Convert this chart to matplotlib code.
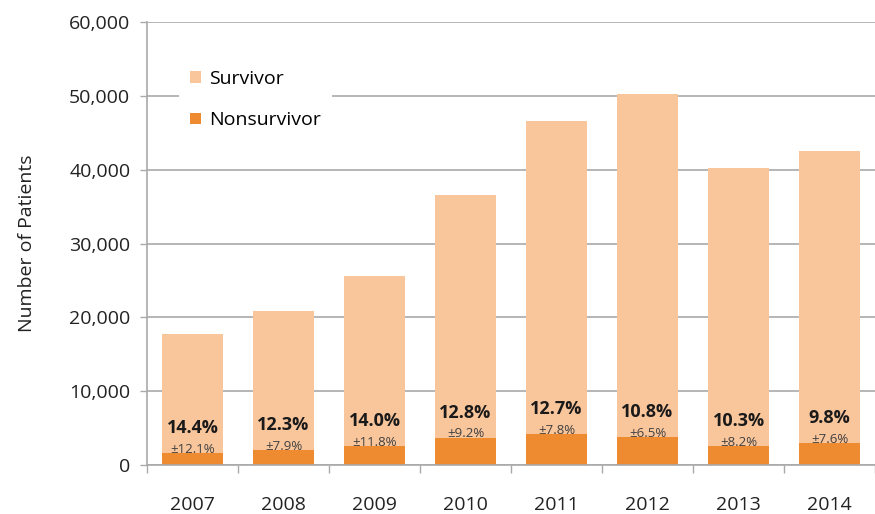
import matplotlib
matplotlib.use("Agg")
import matplotlib.pyplot as plt
import numpy as np

plt.rcParams['font.family'] = ['Open Sans', 'DejaVu Sans']

years = ["2007", "2008", "2009", "2010", "2011", "2012", "2013", "2014"]
nonsurvivor = [1600, 2030, 2570, 3700, 4160, 3750, 2570, 2940]
survivor = [16230, 18780, 23080, 32850, 42390, 46500, 37630, 39560]
mortality = ["14.4%", "12.3%", "14.0%", "12.8%", "12.7%", "10.8%", "10.3%", "9.8%"]
spread = ["±12.1%", "±7.9%", "±11.8%", "±9.2%", "±7.8%", "±6.5%", "±8.2%", "±7.6%"]

light = "#F9C59B"
dark = "#EE8A2F"
grid = "#A9A9A9"

fig = plt.figure(figsize=(8.75, 5.14), dpi=100)
ax = fig.add_axes([0.168, 0.095, 0.832, 0.862])

x = np.arange(len(years))
ax.bar(x, nonsurvivor, width=0.66, color=dark, label="Nonsurvivor", zorder=2)
ax.bar(x, survivor, width=0.66, bottom=nonsurvivor, color=light, label="Survivor", zorder=2)

for i in range(len(years)):
    ax.annotate(spread[i], (x[i], nonsurvivor[i]), xytext=(0, 3), textcoords="offset points",
                ha="center", va="center", fontsize=9.5, color="#404040", zorder=3)
    ax.annotate(mortality[i], (x[i], nonsurvivor[i]), xytext=(0, 18), textcoords="offset points",
                ha="center", va="center", fontsize=13, fontweight="bold", color="#1a1a1a", zorder=3)

ax.set_xlim(-0.5, 7.5)
ax.set_ylim(0, 60000)
ax.set_yticks(range(0, 60001, 10000))
ax.set_yticklabels([f"{v:,}" for v in range(0, 60001, 10000)])
ax.set_xticks(x)
ax.set_xticklabels(years)
ax.set_xticks(np.arange(-0.5, 7.6, 1), minor=True)

ax.yaxis.grid(True, color=grid, linewidth=1.2, zorder=0)
ax.set_axisbelow(True)
for s in ["top", "right"]:
    ax.spines[s].set_visible(False)
for s in ["left", "bottom"]:
    ax.spines[s].set_color(grid)
    ax.spines[s].set_linewidth(1.2)

ax.tick_params(axis="y", length=5, width=1, color=grid, pad=7, labelsize=14, labelcolor="#222222")
ax.tick_params(axis="x", which="major", length=0, pad=22, labelsize=14, labelcolor="#222222")
ax.tick_params(axis="x", which="minor", length=6, width=1, color=grid)

ax.set_ylabel("Number of Patients", fontsize=14, color="#222222", labelpad=24)

handles, labels = ax.get_legend_handles_labels()
leg = ax.legend(handles[::-1], labels[::-1], loc="upper left", bbox_to_anchor=(0.03, 0.94),
                frameon=True, fontsize=14, handlelength=0.55, handleheight=0.55,
                handletextpad=0.4, labelspacing=1.2, borderpad=0.6)
leg.get_frame().set_facecolor("white")
leg.get_frame().set_edgecolor("none")
leg.get_frame().set_alpha(1)

fig.savefig("out.png", dpi=100)
